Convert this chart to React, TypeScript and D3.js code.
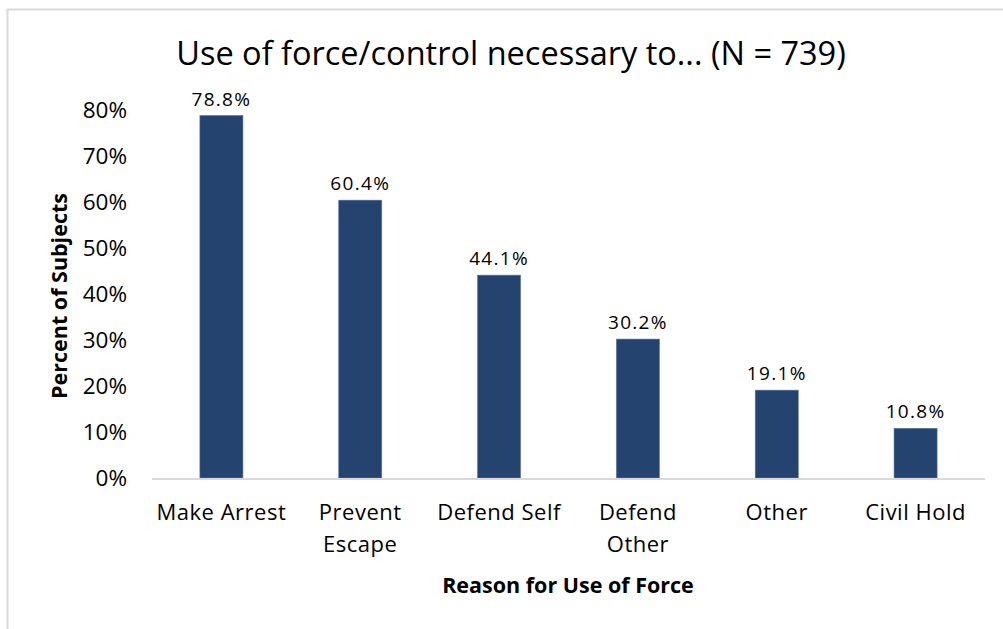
import React from "react";
import * as d3 from "d3";

const categories: string[][] = [
  ["Make Arrest"],
  ["Prevent", "Escape"],
  ["Defend Self"],
  ["Defend", "Other"],
  ["Other"],
  ["Civil Hold"],
];
const values: number[] = [78.8, 60.4, 44.1, 30.2, 19.1, 10.8];
const yTicks: number[] = [0, 10, 20, 30, 40, 50, 60, 70, 80];
const title = "Use of force/control necessary to... (N = 739)";
const xTitle = "Reason for Use of Force";
const yTitle = "Percent of Subjects";

const W = 1003;
const H = 629;
const FONT = "'Open Sans', 'Noto Sans', sans-serif";

export default function App() {
  const left = 152, right = 985, top = 110, bottom = 478;
  const keys = categories.map((c) => c.join(" "));
  const x = d3.scaleBand<string>().domain(keys).range([left, right]).paddingInner(0.69).paddingOuter(0.345);
  const y = d3.scaleLinear().domain([0, 80]).range([bottom, top]);
  return (
    <svg width={W} height={H} style={{ position: "absolute", left: 0, top: 0, background: "#fff" }}>
      <rect x={7.5} y={9.5} width={W + 10} height={H + 10} fill="#fff" stroke="#d9d9d9" strokeWidth={2} />
      <text x={511} y={65} textAnchor="middle" fontFamily={FONT} fontSize={32.5} fill="#000">{title}</text>
      {yTicks.map((t) => (
        <text key={t} x={127} y={y(t)} dy="0.36em" textAnchor="end" fontFamily={FONT} fontSize={22.5} fill="#000">{t}%</text>
      ))}
      {values.map((v, i) => (
        <g key={i}>
          <rect x={x(keys[i])!} y={y(v)} width={x.bandwidth()} height={bottom - y(v)} fill="#24446f" stroke="#5a77a0" strokeWidth={0.6} />
          <text x={x(keys[i])! + x.bandwidth() / 2} y={y(v) - 10} textAnchor="middle" fontFamily={FONT} fontSize={19} letterSpacing={1.3} fill="#000">{v.toFixed(1)}%</text>
        </g>
      ))}
      <line x1={left} x2={right} y1={bottom + 1} y2={bottom + 1} stroke="#d9d9d9" strokeWidth={2} />
      {categories.map((c, i) => (
        <text key={i} x={x(keys[i])! + x.bandwidth() / 2} y={520} textAnchor="middle" fontFamily={FONT} fontSize={22} letterSpacing={0.5} fill="#000">
          {c.map((line, j) => (
            <tspan key={j} x={x(keys[i])! + x.bandwidth() / 2} dy={j === 0 ? 0 : 32}>{line}</tspan>
          ))}
        </text>
      ))}
      <text x={568} y={593} textAnchor="middle" fontFamily={FONT} fontSize={21.5} fontWeight="bold" fill="#000">{xTitle}</text>
      <text transform={`translate(67,${(top + bottom) / 2 + 2}) rotate(-90)`} textAnchor="middle" fontFamily={FONT} fontSize={21.5} fontWeight="bold" fill="#000">{yTitle}</text>
    </svg>
  );
}
